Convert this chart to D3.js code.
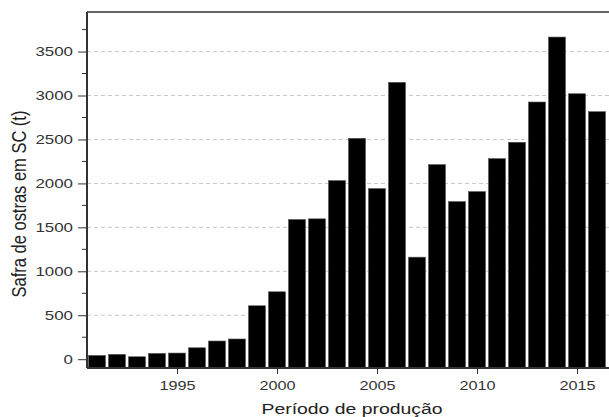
<!DOCTYPE html>
<html><head><meta charset="utf-8">
<script src="https://cdn.jsdelivr.net/npm/d3@7/dist/d3.min.js"></script>
<style>body{margin:0;background:#fff}svg{display:block}</style>
</head><body><svg id="c" width="609" height="417"></svg>
<script>
const years = [1991,1992,1993,1994,1995,1996,1997,1998,1999,2000,2001,2002,2003,2004,2005,2006,2007,2008,2009,2010,2011,2012,2013,2014,2015,2016];
const harvest = [43,55,28,66,70,130,207,230,608,767,1589,1597,2032,2513,1941,3150,1161,2214,1793,1907,2282,2468,2926,3665,3020,2816];
const yTicks = [0,500,1000,1500,2000,2500,3000,3500];
const xTicks = [1995,2000,2005,2010,2015];
const yLabel = "Safra de ostras em SC (t)";
const xLabel = "Período de produção";

const svg = d3.select("#c");
const L = 87, R = 611, T = 12, B = 368;
const x = d3.scaleLinear().domain([1990.5, 2016.7]).range([L, R]);
const y = d3.scaleLinear().domain([-100, 3950]).range([B, T]);
const font = "Liberation Sans, Arial, sans-serif";
const SX = 1.25;

// grid
svg.append("g").selectAll("line").data(yTicks.filter(d => d > 0)).join("line")
  .attr("x1", L).attr("x2", R).attr("y1", d => y(d)).attr("y2", d => y(d))
  .attr("stroke", "#c8c8c8").attr("stroke-width", 1).attr("stroke-dasharray", "4,3");

// bars
const bw = 17;
svg.append("g").selectAll("rect").data(years).join("rect")
  .attr("x", (d) => x(d) - bw / 2).attr("width", bw)
  .attr("y", (d, i) => y(harvest[i])).attr("height", (d, i) => B - y(harvest[i]))
  .attr("fill", "#000").attr("stroke", "#555").attr("stroke-width", 0.6);

// frame top
svg.append("line").attr("x1", L).attr("x2", R).attr("y1", T).attr("y2", T).attr("stroke", "#666").attr("stroke-width", 2);

// y axis
const yAxis = d3.axisLeft(y).tickValues(yTicks).tickSize(9).tickPadding(4).tickFormat(d3.format("d"));
const gy = svg.append("g").attr("transform", `translate(${L},0)`).call(yAxis);
const yMinor = d3.range(250, 3950, 500);
gy.selectAll(".minor").data(yMinor).join("line").attr("class", "minor")
  .attr("x1", -5).attr("x2", 0).attr("y1", d => y(d)).attr("y2", d => y(d)).attr("stroke", "#333");
gy.select(".domain").attr("d", `M0,${T}V${B}`).attr("stroke", "#333").attr("stroke-width", 2);
gy.selectAll(".tick text").attr("x", 0).attr("transform", `translate(-14,0) scale(${SX},1)`)
  .attr("font-family", font).attr("font-size", 13.5).attr("fill", "#333");
gy.selectAll(".tick line").attr("stroke", "#333");

// x axis
const xAxis = d3.axisBottom(x).tickValues(xTicks).tickSize(6).tickPadding(4).tickFormat(d3.format("d"));
const gx = svg.append("g").attr("transform", `translate(0,${B})`).call(xAxis);
gx.select(".domain").attr("d", `M${L},0H${R}`).attr("stroke", "#333").attr("stroke-width", 2);
gx.selectAll(".tick text").attr("y", 0).attr("dy", 0).attr("transform", `translate(0,22) scale(${SX},1)`)
  .attr("font-family", font).attr("font-size", 13).attr("fill", "#333");
gx.selectAll(".tick line").attr("stroke", "#333");

// labels
svg.append("text").attr("transform", `translate(352,414) scale(${SX},1)`).attr("text-anchor", "middle")
  .attr("font-family", font).attr("font-size", 15.5).attr("fill", "#222").text(xLabel);
svg.append("text").attr("transform", `translate(26,204) scale(${SX},1) rotate(-90)`).attr("text-anchor", "middle")
  .attr("font-family", font).attr("font-size", 16.5).attr("fill", "#222").text(yLabel);
</script></body></html>
